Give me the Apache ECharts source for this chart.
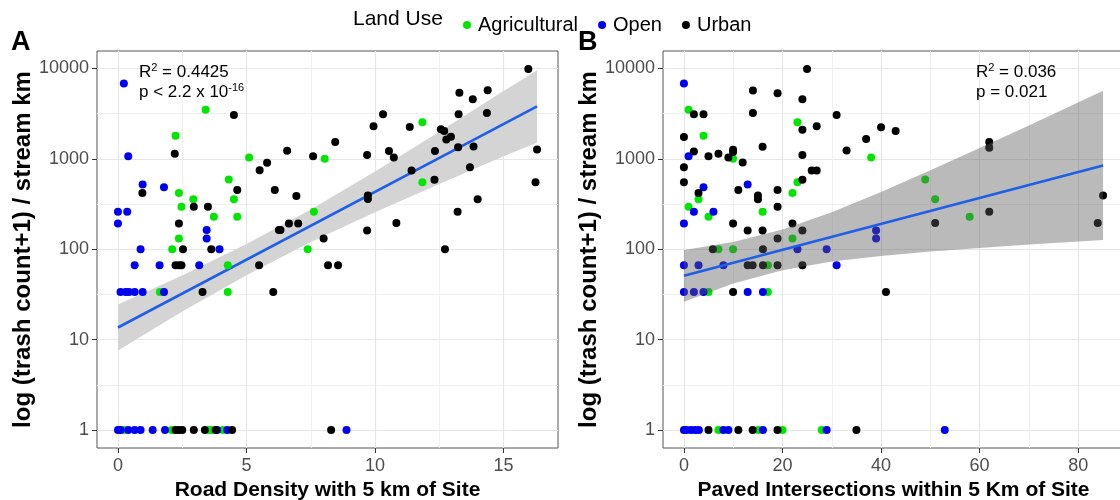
<!DOCTYPE html>
<html><head><meta charset="utf-8">
<script src="https://cdn.jsdelivr.net/npm/echarts@6/dist/echarts.min.js"></script>
<style>html,body{margin:0;padding:0;background:#fff}#c{width:1120px;height:500px}</style>
</head><body><div id="c"></div>
<script>
// ---------- DATA ----------
const landUse = ['Agricultural', 'Open', 'Urban'];
const yTickValues = [1, 10, 100, 1000, 10000];
const yMinorValues = [3.16, 31.6, 316, 3160];
const xTicksA = [0, 5, 10, 15];
const xMinorA = [2.5, 7.5, 12.5];
const xTicksB = [0, 20, 40, 60, 80];
const xMinorB = [10, 30, 50, 70];

// Panel A: road density (km) vs (trash count+1)/stream km
const agriA = [[3.41,3500],[2.24,1800],[5.10,1035],[8.04,1000],[4.31,589],[2.37,419],[2.93,356],[2.47,295],[4.51,356],[3.73,229],[4.64,229],[7.62,260],[2.37,131],[2.11,100],[7.38,100],[4.27,66.5],[1.63,33.5],[4.27,33.5],[0.23,1],[2.09,1],[3.54,1],[3.63,1],[4.08,1],[11.84,2535],[11.84,551]];
const openA = [[0.23,6810],[0.40,1070],[0.96,519],[1.79,484],[0,260],[0.36,260],[0,193],[3.45,163],[3.45,131],[0.88,100],[3.95,100],[0.65,66.5],[1.62,66.5],[3.16,66.5],[0.10,33.5],[0.30,33.5],[0.43,33.5],[0.65,33.5],[0.96,33.5],[1.79,33.5],[0,1],[0.10,1],[0.40,1],[0.65,1],[0.88,1],[1.35,1],[1.83,1],[3.86,1],[4.25,1],[8.89,1]];
const urbanA = [[4.51,3055],[2.21,1140],[5.51,748],[5.80,903],[6.58,1227],[7.59,1070],[0.95,419],[4.64,453],[6.10,453],[6.94,388],[2.95,295],[3.50,295],[2.37,193],[6.26,163],[6.32,163],[6.65,193],[7.01,193],[8.0,131],[2.53,100],[3.63,100],[2.24,66.5],[2.37,66.5],[2.47,66.5],[5.49,66.5],[8.17,66.5],[8.56,66.5],[3.29,33.5],[6.04,33.5],[9.69,161],[12.72,100],[15.96,9840],[13.28,5370],[14.38,5740],[13.80,4560],[10.31,3110],[13.25,3110],[14.35,3210],[9.94,2290],[11.35,2250],[12.56,2120],[12.69,2030],[12.95,1750],[12.77,1640],[8.45,1530],[10.54,1220],[10.73,1035],[9.69,1105],[12.33,1220],[13.23,1340],[13.83,1370],[16.30,1270],[11.42,741],[13.69,807],[12.31,585],[16.24,551],[9.72,392],[9.72,360],[13.99,356],[13.21,260],[10.83,195],[2.24,1],[2.37,1],[2.50,1],[2.95,1],[3.38,1],[3.80,1],[4.44,1],[8.29,1]];
const fitXA = [0, 16.3];
const fitYA = [13.6, 3810];
const bandXA = [0, 2.5, 5, 7.5, 10, 12.5, 15, 16.3];
const bandLowA = [7.55, 20.4, 51.6, 120, 257, 525, 1070, 1510];
const bandHighA = [24.4, 51, 114, 275, 724, 1995, 5620, 9550];

// Panel B: paved intersections vs (trash count+1)/stream km
const agriB = [[0.94,3500],[23.03,2535],[3.97,1800],[9.97,1000],[37.98,1035],[23.03,551],[22.02,419],[2.96,356],[0.94,295],[4.98,229],[15.96,260],[22.02,131],[48.96,589],[50.98,356],[57.98,229],[7.0,100],[9.97,100],[17.04,66.5],[4.98,33.5],[17.04,33.5],[7.0,1],[15.08,1],[20.0,1],[27.95,1]];
const openB = [[0,6810],[0.94,1070],[3.97,484],[12.93,519],[2.02,260],[5.99,260],[0,193],[38.99,161],[38.99,131],[23.03,100],[28.96,100],[0,66.5],[2.96,66.5],[8.01,66.5],[30.98,66.5],[0,33.5],[2.02,33.5],[3.97,33.5],[12.93,33.5],[16.03,33.5],[0,1],[0.6,1],[1.48,1],[2.29,1],[3.03,1],[8.01,1],[9.02,1],[16.03,1],[28.96,1],[52.93,1]];
const urbanB = [[24.98,9840],[14.0,5700],[19.0,5320],[24.04,4560],[2.02,3110],[3.97,3110],[14.0,3210],[30.98,3055],[24.04,2100],[26.94,2290],[40.0,2230],[0,1740],[36.97,1660],[2.02,1205],[7.0,1140],[4.98,1070],[9.02,1035],[9.97,1260],[9.97,1186],[15.96,1358],[24.04,1100],[33.0,1239],[11.92,910],[0,807],[25.93,741],[26.94,741],[0,551],[11.04,453],[2.96,419],[15.02,392],[15.02,356],[19.0,453],[24.04,585],[19.0,295],[9.97,193],[22.02,193],[12.93,161],[15.96,161],[24.04,161],[19.0,131],[42.96,2030],[61.95,1530],[61.95,1324],[50.98,195],[61.95,260],[85.05,392],[83.97,195],[5.86,100],[16.03,100],[12.93,66.5],[13.94,66.5],[16.03,66.5],[18.99,66.5],[24.04,66.5],[9.97,33.5],[41.0,33.5],[4.98,1],[11.04,1],[13.94,1],[18.99,1],[35.0,1]];
const fitXB = [0, 85.05];
const fitYB = [50.7, 843];
const bandXB = [0, 10, 20, 30, 40, 50, 60, 70, 85.05];
const bandLowB = [26.2, 41.6, 58.5, 73, 84, 94, 103, 113, 126];
const bandHighB = [98, 120, 165, 256, 430, 746, 1318, 2333, 5650];

// ---------- CHART ----------
const FONT = '"Liberation Sans", Arial, sans-serif';
const colors = {Agricultural: '#00e600', Open: '#0000f0', Urban: '#000000'};
const L = v => Math.log10(v);
const pts = arr => arr.map(p => [p[0], L(p[1])]);
const logTicks = a => a.map(L);
const Y_MIN = -0.2, Y_MAX = 4.193;

function xMajor(gi, min, max, ticks, name) {
  return {type: 'value', gridIndex: gi, min, max, name, nameLocation: 'middle', nameGap: 32,
    nameTextStyle: {fontFamily: FONT, fontSize: 21, fontWeight: 'bold', color: '#000'},
    axisLine: {show: false, onZero: false},
    axisTick: {show: true, length: 5, customValues: ticks, lineStyle: {color: '#333'}},
    axisLabel: {customValues: ticks, fontSize: 18, color: '#4d4d4d', fontFamily: FONT, margin: 9},
    splitLine: {show: true, lineStyle: {color: '#e6e6e6', width: 1.2}}};
}
function xMinor(gi, min, max, ticks) {
  return {type: 'value', gridIndex: gi, min, max,
    axisLine: {show: false, onZero: false}, axisTick: {show: false, customValues: ticks},
    axisLabel: {show: false}, splitLine: {show: true, lineStyle: {color: '#f0f0f0', width: 1}}};
}
function yMajor(gi, name) {
  return {type: 'value', gridIndex: gi, min: Y_MIN, max: Y_MAX, name, nameLocation: 'middle', nameGap: 60,
    nameRotate: 90,
    nameTextStyle: {fontFamily: FONT, fontSize: 24, fontWeight: 'bold', color: '#000'},
    axisLine: {show: false, onZero: false},
    axisTick: {show: true, length: 5, customValues: logTicks(yTickValues), lineStyle: {color: '#333'}},
    axisLabel: {customValues: logTicks(yTickValues), fontSize: 18, color: '#4d4d4d', fontFamily: FONT, margin: 8,
      formatter: v => String(Math.round(Math.pow(10, v)))},
    splitLine: {show: true, lineStyle: {color: '#e6e6e6', width: 1.2}}};
}
function yMinor(gi) {
  return {type: 'value', gridIndex: gi, min: Y_MIN, max: Y_MAX,
    axisLine: {show: false, onZero: false}, axisTick: {show: false, customValues: logTicks(yMinorValues)},
    axisLabel: {show: false}, splitLine: {show: true, lineStyle: {color: '#f0f0f0', width: 1}}};
}

function scatter(name, data, xi, yi) {
  return {type: 'scatter', name, data: pts(data), xAxisIndex: xi, yAxisIndex: yi,
    symbolSize: 8, itemStyle: {color: colors[name], opacity: 1}, z: 3};
}
// confidence band: one polygon through (x, low) then back along (x, high), placed with api.coord
function band(xs, lo, hi, xi, yi, color, z) {
  const data = xs.map((x, i) => [x, L(lo[i]), L(hi[i])]);
  return {type: 'custom', name: 'band', xAxisIndex: xi, yAxisIndex: yi, silent: true, z,
    data,
    encode: {x: 0, y: [1, 2]},
    renderItem: (params, api) => {
      if (params.dataIndex !== 0) return null;
      const lower = data.map(d => api.coord([d[0], d[1]]));
      const upper = data.map(d => api.coord([d[0], d[2]])).reverse();
      return {type: 'polygon', shape: {points: lower.concat(upper)}, style: {fill: color}};
    }};
}
function fit(xs, ys, xi, yi, z) {
  return {type: 'line', name: 'fit', xAxisIndex: xi, yAxisIndex: yi, silent: true, z,
    data: xs.map((x, i) => [x, L(ys[i])]), symbol: 'none', lineStyle: {color: '#1f5fe8', width: 2.6}};
}

const supRich = {sup: {fontSize: 11, verticalAlign: 'top', fontFamily: FONT, fill: '#000', lineHeight: 20}};
const chart = echarts.init(document.getElementById('c'), null, {renderer: 'canvas'});
chart.setOption({
  backgroundColor: '#fff',
  animation: false,
  textStyle: {fontFamily: FONT},
  legend: {data: landUse, left: 458, top: 10, icon: 'circle', itemWidth: 8, itemHeight: 8, itemGap: 20,
    textStyle: {fontSize: 20, color: '#000', fontFamily: FONT, padding: [0, 0, 0, 2]}},
  grid: [
    {left: 97, top: 51, width: 461, height: 397, show: true, borderColor: '#555', borderWidth: 1,
      backgroundColor: 'transparent', outerBoundsMode: 'none', containLabel: false},
    {left: 663, top: 51, width: 461, height: 397, show: true, borderColor: '#555', borderWidth: 1,
      backgroundColor: 'transparent', outerBoundsMode: 'none', containLabel: false}
  ],
  xAxis: [
    xMajor(0, -0.815, 17.115, xTicksA, 'Road Density with 5 km of Site'),
    xMinor(0, -0.815, 17.115, xMinorA),
    xMajor(1, -4.25, 89.3, xTicksB, 'Paved Intersections within 5 Km of Site'),
    xMinor(1, -4.25, 89.3, xMinorB)
  ],
  yAxis: [
    yMajor(0, 'log (trash count+1) / stream km'),
    yMinor(0),
    yMajor(1, 'log (trash count+1) / stream km'),
    yMinor(1)
  ],
  graphic: [
    {type: 'text', z: 100, left: 353, top: 9, style: {text: 'Land Use', fontSize: 21, fontFamily: FONT, fill: '#000'}},
    {type: 'text', z: 100, left: 11, top: 29, style: {text: 'A', fontSize: 27, fontWeight: 'bold', fontFamily: FONT, fill: '#000'}},
    {type: 'text', z: 100, left: 578, top: 29, style: {text: 'B', fontSize: 27, fontWeight: 'bold', fontFamily: FONT, fill: '#000'}},
    {type: 'text', z: 100, left: 139, top: 62, style: {text: 'R{sup|2} = 0.4425\np < 2.2 x 10{sup|-16}', fontSize: 17, lineHeight: 20,
      fontFamily: FONT, fill: '#000', rich: supRich}},
    {type: 'text', z: 100, left: 976, top: 62, style: {text: 'R{sup|2} = 0.036\np = 0.021', fontSize: 17, lineHeight: 20,
      fontFamily: FONT, fill: '#000', rich: supRich}}
  ],
  series: [
    band(bandXA, bandLowA, bandHighA, 0, 0, '#d4d4d4', 1),
    fit(fitXA, fitYA, 0, 0, 2),
    scatter('Agricultural', agriA, 0, 0),
    scatter('Open', openA, 0, 0),
    scatter('Urban', urbanA, 0, 0),
    scatter('Agricultural', agriB, 2, 2),
    scatter('Open', openB, 2, 2),
    scatter('Urban', urbanB, 2, 2),
    band(bandXB, bandLowB, bandHighB, 2, 2, 'rgba(90,90,90,0.42)', 5),
    fit(fitXB, fitYB, 2, 2, 6)
  ]
});
</script></body></html>
